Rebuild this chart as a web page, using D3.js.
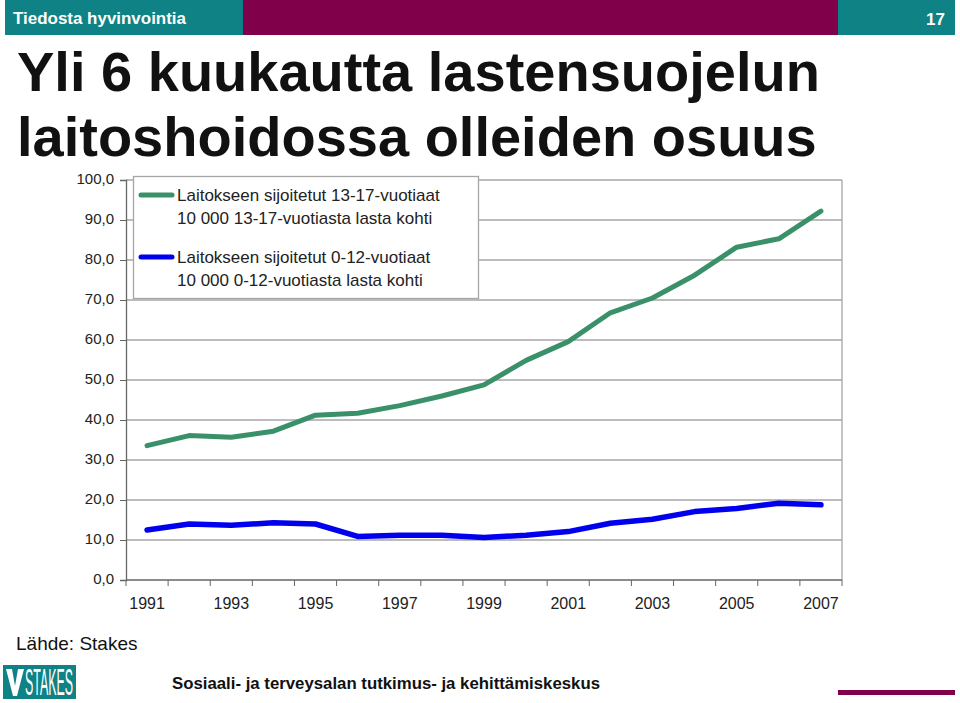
<!DOCTYPE html>
<html>
<head>
<meta charset="utf-8">
<script src="https://cdn.jsdelivr.net/npm/d3@7"></script>
<style>
  body { margin: 0; background: #fff; }
  svg { display: block; font-family: "Liberation Sans", Arial, sans-serif; }
</style>
</head>
<body>
<div id="wrapper"></div>
<script>
// data
const years = ["1991","1992","1993","1994","1995","1996","1997","1998","1999",
               "2000","2001","2002","2003","2004","2005","2006","2007"];
const teens = [33.6, 36.1, 35.7, 37.2, 41.2, 41.7, 43.6, 46.0, 48.8, 54.9, 59.6, 66.8, 70.5, 76.2, 83.2, 85.3, 92.2];
const kids  = [12.5, 14.0, 13.7, 14.3, 14.0, 10.9, 11.2, 11.2, 10.6, 11.2, 12.1, 14.2, 15.2, 17.1, 17.9, 19.2, 18.8];
const yTicks = [0, 10, 20, 30, 40, 50, 60, 70, 80, 90, 100];
const xLabels = ["1991","1993","1995","1997","1999","2001","2003","2005","2007"];
const legendLines = [
  ["Laitokseen sijoitetut 13-17-vuotiaat", "10 000 13-17-vuotiasta lasta kohti"],
  ["Laitokseen sijoitetut 0-12-vuotiaat", "10 000 0-12-vuotiasta lasta kohti"]
];

const width = 960
const height = 703
const teal = "#0e8285"
const maroon = "#80004a"

const svg = d3.select("#wrapper")
  .append("svg")
  .attr("width", width)
  .attr("height", height);

// header bar
svg.append("rect").attr("x", 5).attr("y", 0).attr("width", 950).attr("height", 35).attr("fill", teal);
svg.append("rect").attr("x", 243).attr("y", 0).attr("width", 595).attr("height", 35).attr("fill", maroon);
svg.append("text")
  .attr("x", 13).attr("y", 24)
  .attr("fill", "#fff").attr("font-size", "17px")
  .attr("font-weight", "bold")
  .attr("textLength", 173)
  .attr("lengthAdjust", "spacingAndGlyphs")
  .text("Tiedosta hyvinvointia");
svg.append("text")
  .attr("x", 945).attr("y", 25)
  .attr("fill", "#fff").attr("font-size", "17px")
  .attr("font-weight", "bold")
  .attr("text-anchor", "end")
  .text("17");

// title
const title = svg.append("text")
  .attr("font-size", "56px")
  .attr("font-weight", "bold")
  .attr("fill", "#111");
title.append("tspan").attr("x", 17).attr("y", 91).text("Yli 6 kuukautta lastensuojelun");
title.append("tspan").attr("x", 17).attr("y", 156).text("laitoshoidossa olleiden osuus");

// scales
const plot = { left: 126, right: 842, top: 180, bottom: 580 };

const xScaler = d3.scaleBand()
  .domain(years)
  .range([plot.left, plot.right])
  .padding(0);
const xMid = d => xScaler(d) + xScaler.bandwidth() / 2;

const yScaler = d3.scaleLinear()
  .domain([0, 100])
  .range([plot.bottom, plot.top]);

// gridlines
svg.append("g")
  .selectAll("line")
  .data(yTicks.filter(d => d > 0))
  .enter()
  .append("line")
  .attr("x1", plot.left)
  .attr("x2", plot.right)
  .attr("y1", d => yScaler(d))
  .attr("y2", d => yScaler(d))
  .attr("stroke", "#a6a6a6")
  .attr("stroke-width", 1.3);

// right border
svg.append("line")
  .attr("x1", plot.right).attr("x2", plot.right)
  .attr("y1", plot.top).attr("y2", plot.bottom)
  .attr("stroke", "#a6a6a6").attr("stroke-width", 1.3);

// y axis
const fmt = d => d3.format(".1f")(d).replace(".", ",");
const yAxisGen = d3.axisLeft(yScaler)
  .tickValues(yTicks)
  .tickFormat(fmt)
  .tickSize(6)
  .tickPadding(6);
const yAxis = svg.append("g")
  .attr("transform", `translate(${plot.left},0)`)
  .call(yAxisGen);
yAxis.select(".domain").attr("stroke", "#666").attr("stroke-width", 1.3);
yAxis.selectAll(".tick line").attr("stroke", "#666");
yAxis.selectAll(".tick text")
  .attr("font-family", "Liberation Sans, Arial, sans-serif")
  .attr("font-size", "15px")
  .attr("fill", "#222")
  .attr("dy", "0.2em");

// x axis (ticks on band boundaries)
const xAxis = svg.append("g");
xAxis.append("line")
  .attr("x1", plot.left).attr("x2", plot.right)
  .attr("y1", plot.bottom).attr("y2", plot.bottom)
  .attr("stroke", "#666").attr("stroke-width", 1.3);
xAxis.selectAll(".xt")
  .data(years.concat(["end"]))
  .enter()
  .append("line")
  .attr("class", "xt")
  .attr("x1", d => d === "end" ? plot.right : xScaler(d))
  .attr("x2", d => d === "end" ? plot.right : xScaler(d))
  .attr("y1", plot.bottom)
  .attr("y2", plot.bottom + 6)
  .attr("stroke", "#666");
xAxis.selectAll("text")
  .data(xLabels)
  .enter()
  .append("text")
  .attr("x", d => xMid(d))
  .attr("y", 609)
  .attr("text-anchor", "middle")
  .attr("font-size", "16px")
  .attr("fill", "#222")
  .text(d => d);

// lines
const lineGen = d3.line()
  .x((d, i) => xMid(years[i]))
  .y(d => yScaler(d));

svg.append("path")
  .datum(kids)
  .attr("d", lineGen)
  .attr("fill", "none")
  .attr("stroke", "#0000ee")
  .attr("stroke-width", 5.5)
  .attr("stroke-linejoin", "round")
  .attr("stroke-linecap", "round");

svg.append("path")
  .datum(teens)
  .attr("d", lineGen)
  .attr("fill", "none")
  .attr("stroke", "#3a9169")
  .attr("stroke-width", 5)
  .attr("stroke-linejoin", "round")
  .attr("stroke-linecap", "round");

// legend
const legend = svg.append("g");
legend.append("rect")
  .attr("x", 133.5).attr("y", 176.5)
  .attr("width", 345).attr("height", 122)
  .attr("fill", "#fff")
  .attr("stroke", "#a6a6a6")
  .attr("stroke-width", 1.3);
const legendColors = ["#3a9169", "#0000ee"];
legendLines.forEach((lines, i) => {
  const y0 = 195 + i * 62;
  legend.append("line")
    .attr("x1", 141).attr("x2", 172)
    .attr("y1", y0).attr("y2", y0)
    .attr("stroke", legendColors[i])
    .attr("stroke-width", 5)
    .attr("stroke-linecap", "round");
  lines.forEach((t, j) => {
    legend.append("text")
      .attr("x", 177)
      .attr("y", y0 + 6 + j * 23)
      .attr("font-size", "17px")
      .attr("fill", "#222")
      .text(t);
  });
});

// footer
svg.append("text")
  .attr("x", 16).attr("y", 650)
  .attr("font-size", "19px")
  .attr("fill", "#111")
  .text("Lähde: Stakes");

svg.append("rect").attr("x", 3).attr("y", 665).attr("width", 73).attr("height", 34).attr("fill", teal);
svg.append("path")
  .attr("d", "M6,669 L12,669 L15,686 L18,669 L24,669 L17,696 L13,696 Z")
  .attr("fill", "#fff");
svg.append("text")
  .attr("x", 25).attr("y", 695)
  .attr("font-size", "36px")
  .attr("fill", "#fff")
  .attr("textLength", 48)
  .attr("lengthAdjust", "spacingAndGlyphs")
  .text("STAKES");

svg.append("text")
  .attr("x", 172).attr("y", 689)
  .attr("font-size", "17px")
  .attr("font-weight", "bold")
  .attr("fill", "#111")
  .attr("textLength", 428)
  .attr("lengthAdjust", "spacingAndGlyphs")
  .text("Sosiaali- ja terveysalan tutkimus- ja kehittämiskeskus");

svg.append("rect").attr("x", 838).attr("y", 690).attr("width", 117).attr("height", 5).attr("fill", maroon);
</script>
</body>
</html>
